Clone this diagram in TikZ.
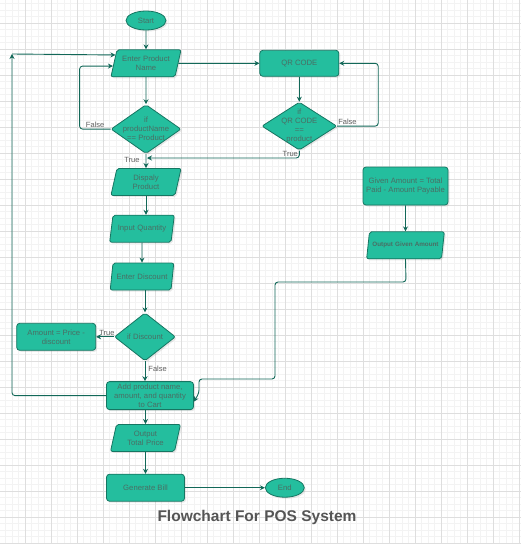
\documentclass[tikz,border=0pt]{standalone}
\usepackage{fontspec}
\setmainfont{Liberation Sans}
\usepackage{tikz}
\usetikzlibrary{arrows.meta,shapes,positioning,calc,shadows}

\definecolor{flowfill}{RGB}{36,190,158}
\definecolor{flowedge}{RGB}{22,118,98}
\definecolor{flowline}{RGB}{18,104,88}
\definecolor{flowtext}{RGB}{74,110,100}
\definecolor{labeltext}{RGB}{95,95,95}
\definecolor{titlegray}{RGB}{85,85,85}
\definecolor{gridminor}{RGB}{243,243,243}
\definecolor{gridmajor}{RGB}{222,222,222}

\newcommand{\flowfont}{\fontsize{7.7}{9}\selectfont}
\newcommand{\edgefont}{\fontsize{7.5}{9}\selectfont}
\newcommand{\titlefont}{\fontsize{15.5}{18}\selectfont\bfseries}

\begin{document}
\begin{tikzpicture}[
        x=1pt, y=-1pt,
        >={Stealth[length=5pt,width=5pt]},
        shade/.style={drop shadow={opacity=0.18, shadow xshift=1.5pt, shadow yshift=-1.5pt}},
        box/.style={draw=flowedge, line width=0.8pt, fill=flowfill, text=flowtext, font=\flowfont, align=center, rounded corners=3pt, inner sep=1pt, shade},
        terminal/.style={ellipse, draw=flowedge, line width=0.8pt, fill=flowfill, text=flowtext, font=\flowfont, minimum width=40pt, minimum height=19pt, inner sep=0pt, shade},
        io/.style={trapezium, trapezium left angle=70, trapezium right angle=110, trapezium stretches body, draw=flowedge, line width=0.8pt, fill=flowfill, text=flowtext, font=\flowfont, align=center, rounded corners=2pt, inner sep=1pt, minimum height=27pt, text width=56pt, shade},
        decision/.style={diamond, draw=flowedge, line width=0.8pt, fill=flowfill, minimum width=70pt, minimum height=49pt, inner sep=0pt, rounded corners=2pt, shade},
        inside/.style={text=flowtext, font=\flowfont, align=center, inner sep=0pt},
        flow/.style={draw=flowline, line width=0.9pt, rounded corners=3pt},
        lbl/.style={text=labeltext, font=\edgefont, inner sep=1pt}
    ]

    % Background grid
    \useasboundingbox (0,0) rectangle (521,544);
    \fill[white] (0,0) rectangle (521,544);
    \begin{scope}
    \clip (0,0) rectangle (521,544);
    \foreach \gx in {-1,5.5,...,521} \draw[gridminor, line width=0.5pt] (\gx,0) -- (\gx,544);
    \foreach \gy in {-3,3.5,...,544} \draw[gridminor, line width=0.5pt] (0,\gy) -- (521,\gy);
    \foreach \gx in {-1,25,...,521} \draw[gridmajor, line width=0.7pt] (\gx,0) -- (\gx,544);
    \foreach \gy in {-3,23,...,544} \draw[gridmajor, line width=0.7pt] (0,\gy) -- (521,\gy);
    \end{scope}

    % Nodes
    \node[terminal] (start) at (146,20.5) {Start};
    \node[io, below=19pt of start] (enter) {Enter Product\\Name};
    \node[decision, below=27pt of enter, label={[inside]center:{if\\productName\\== Product}}] (ifname) {};
    \node[io, below=14pt of ifname] (display) {Dispaly\\Product};
    \node[io, below=19pt of display, xshift=-4pt] (qty) {Input Quantity};
    \node[io, below=20pt of qty] (disc) {Enter Discount};
    \node[decision, below=22pt of disc, xshift=3pt, minimum width=61pt, minimum height=48pt, label={[inside]center:{if Discount}}] (ifdisc) {};
    \node[box, left=18pt of ifdisc, minimum width=79pt, minimum height=27pt] (amount) {Amount = Price -\\discount};
    \node[box, below=20pt of ifdisc, xshift=5pt, minimum width=87pt, minimum height=28pt] (cart) {Add product name,\\amount, and quantity\\to Cart};
    \node[io, below=14pt of cart, xshift=-4.5pt] (outtotal) {Output\\Total Price};
    \node[box, below=22pt of outtotal, minimum width=78pt, minimum height=27pt] (bill) {Generate Bill};
    \node[terminal, right=80pt of bill, minimum width=39pt] (end) {End};

    \node[box, right=81pt of enter, minimum width=79pt, minimum height=26pt] (qr) {QR CODE};
    \node[decision, below=25pt of qr, minimum width=75pt, minimum height=48pt, label={[inside]center:{if\\QR CODE\\==\\product}}] (ifqr) {};

    \node[box, minimum width=85pt, minimum height=38pt] (given) at (405.5,186) {Given Amount = Total\\Paid - Amount Payable};
    \node[io, below=26pt of given, text width=70pt, font=\fontsize{6.3}{7}\selectfont\bfseries] (outgiven) {Output Given Amount};

    \node[text=titlegray, font=\titlefont] (title) at (257,517) {Flowchart For POS System};

    \coordinate (merge) at (147,158);
    \coordinate (loopcorner) at (12,54);

    % Edges
    \draw[flow, ->] (start) -- (enter);
    \draw[flow, ->] (enter) -- (ifname);
    \draw[flow, ->] (ifname) -- node[lbl, left=5pt, pos=0.4] {True} (display);
    \draw[flow, ->] (ifname.west) -- node[lbl, above] {False} ++(-31,0)
        |- ($(enter.top left corner)!0.6!(enter.bottom left corner)$);
    \draw[flow, ->] (enter) -- (qr);
    \draw[flow, ->] (qr) -- (ifqr);
    \draw[flow, ->] (ifqr.east) -- node[lbl, above, pos=0.25] {False} ++(41,0) |- (qr.east);
    \draw[flow, ->] (ifqr.south) |- node[lbl, above left, pos=0.5] {True} (merge);
    \draw[flow, ->] (display.south) -- (display.south |- qty.north);
    \draw[flow, ->] (qty) -- (disc);
    \draw[flow, ->] (ifdisc.north |- disc.south) -- (ifdisc.north);
    \draw[flow, ->] (ifdisc) -- node[lbl, above, pos=0.4] {True} (amount);
    \draw[flow, ->] (ifdisc.south) -- node[lbl, right=2pt, pos=0.4] {False} (ifdisc.south |- cart.north);
    \draw[flow, ->] (cart.west) -| (loopcorner);
    \draw[flow, ->] (loopcorner) -- ($(enter.top left corner)!0.2!(enter.bottom left corner)$);
    \draw[flow, ->] (outtotal.north |- cart.south) -- (outtotal.north);
    \draw[flow, ->] (outtotal) -- (bill);
    \draw[flow, ->] (bill) -- (end);
    \draw[flow, ->] (given) -- (outgiven);
    \draw[flow, ->] (outgiven.south) -- (406,282) -- (275,282) -- (275,379) -- (199,379) -- (199,393) -- ([yshift=-6pt]cart.east);

\end{tikzpicture}
\end{document}
